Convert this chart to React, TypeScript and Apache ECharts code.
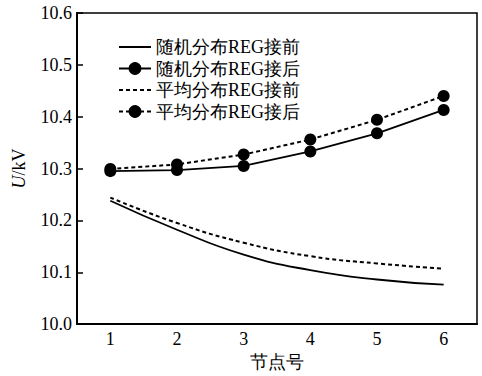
import React, { useEffect, useRef } from "react";
import * as echarts from "echarts";

const categories = ["1", "2", "3", "4", "5", "6"];
const randomBefore = [10.238, 10.182, 10.134, 10.104, 10.086, 10.076];
const randomAfter = [10.295, 10.297, 10.305, 10.333, 10.368, 10.413];
const avgBefore = [10.244, 10.195, 10.157, 10.131, 10.117, 10.107];
const avgAfter = [10.299, 10.308, 10.327, 10.356, 10.394, 10.44];
const seriesNames = ["随机分布REG接前", "随机分布REG接后", "平均分布REG接前", "平均分布REG接后"];

const FONT = "Liberation Serif";

export default function App() {
  const ref = useRef<HTMLDivElement>(null);
  useEffect(() => {
    if (!ref.current) return;
    const chart = echarts.init(ref.current, undefined, { renderer: "svg" });
    const dashed = { type: [4, 3] as number[], width: 2, color: "#000" };
    const solid = { type: "solid" as const, width: 1.8, color: "#000" };
    chart.setOption({
      animation: false,
      backgroundColor: "#fff",
      textStyle: { fontFamily: FONT, color: "#000" },
      grid: {
        left: 77,
        right: 5,
        top: 13,
        bottom: 47,
        show: true,
        borderColor: "#000",
        borderWidth: 1.5,
      },
      legend: {
        orient: "vertical",
        left: 113,
        top: 33,
        itemWidth: 32,
        itemHeight: 16,
        itemGap: 3.5,
        data: [
          { name: seriesNames[0], itemStyle: { opacity: 0 } },
          { name: seriesNames[1] },
          { name: seriesNames[2], itemStyle: { opacity: 0 } },
          { name: seriesNames[3] },
        ],
        textStyle: {
          fontFamily: FONT,
          fontSize: 18,
          color: "#000",
        },
      },
      xAxis: {
        type: "category",
        data: categories,
        boundaryGap: true,
        name: "节点号",
        nameLocation: "middle",
        nameGap: 27,
        nameTextStyle: { fontFamily: FONT, fontSize: 18, color: "#000" },
        axisLine: { lineStyle: { color: "#000", width: 2 } },
        axisTick: { inside: true, alignWithLabel: true, length: 6, lineStyle: { color: "#000", width: 1.5 } },
        axisLabel: { fontFamily: FONT, fontSize: 18, color: "#000", margin: 6 },
        splitLine: { show: false },
      },
      yAxis: {
        type: "value",
        min: 10.0,
        max: 10.6,
        interval: 0.1,
        name: "{i|U}/kV",
        nameLocation: "middle",
        nameGap: 49,
        nameRotate: 90,
        nameTextStyle: {
          fontFamily: FONT,
          fontSize: 18,
          color: "#000",
          rich: { i: { fontFamily: FONT, fontSize: 18, fontStyle: "italic", color: "#000" } },
        },
        axisLine: { show: true, lineStyle: { color: "#000", width: 2 } },
        axisTick: { show: true, inside: true, length: 6, lineStyle: { color: "#000", width: 1.5 } },
        axisLabel: {
          fontFamily: FONT,
          fontSize: 18,
          color: "#000",
          margin: 5,
          formatter: (v: number) => v.toFixed(1),
        },
        splitLine: { show: false },
      },
      series: [
        {
          name: seriesNames[0],
          type: "line",
          data: randomBefore,
          smooth: true,
          symbol: "none",
          lineStyle: solid,
          itemStyle: { color: "#000" },
        },
        {
          name: seriesNames[1],
          type: "line",
          data: randomAfter,
          symbol: "circle",
          symbolSize: 12,
          lineStyle: solid,
          itemStyle: { color: "#000" },
        },
        {
          name: seriesNames[2],
          type: "line",
          data: avgBefore,
          smooth: true,
          symbol: "none",
          lineStyle: dashed,
          itemStyle: { color: "#000" },
        },
        {
          name: seriesNames[3],
          type: "line",
          data: avgAfter,
          symbol: "circle",
          symbolSize: 12,
          lineStyle: dashed,
          itemStyle: { color: "#000" },
        },
      ],
    });
    return () => chart.dispose();
  }, []);
  return (
    <div
      ref={ref}
      style={{ position: "absolute", left: 0, top: 0, width: 482, height: 376 }}
    />
  );
}
